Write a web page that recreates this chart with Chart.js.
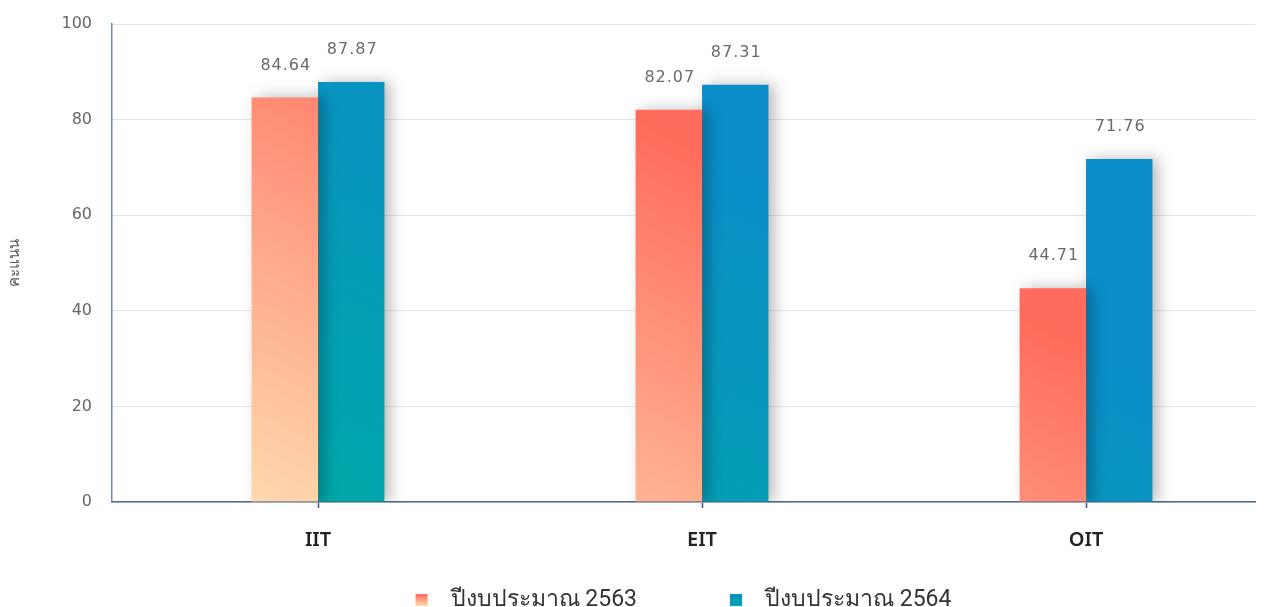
<!DOCTYPE html>
<html>
<head>
<meta charset="utf-8">
<script src="https://cdn.jsdelivr.net/npm/chart.js@4.4.1/dist/chart.umd.min.js"></script>
<style>
  html, body { margin: 0; padding: 0; background: #fff; }
  #wrap { width: 1269px; height: 607px; }
</style>
</head>
<body>
<div id="wrap"><canvas id="grafico"></canvas></div>
<script>
// Dados do gráfico
const categorias = ['IIT', 'EIT', 'OIT'];
const pontos2563 = [84.64, 82.07, 44.71];
const pontos2564 = [87.87, 87.31, 71.76];
const rotulosSeries = ['ปีงบประมาณ 2563', 'ปีงบประมาณ 2564'];
const ticksY = [0, 20, 40, 60, 80, 100];
const tituloY = 'คะแนน';

// Cores (topo/vermelho -> base/claro)
const coresLaranja = ['#FF6B5C', '#FFD9AE'];
const coresAzul = ['#0A8DC8', '#00AAA8'];

// Gradiente diagonal sobre toda a área do gráfico
function gradiente(chart, cores) {
  const a = chart.chartArea;
  if (!a) return cores[0];
  const g = chart.ctx.createLinearGradient(a.left + 556, a.top + 105, a.left + 316, a.top + 569);
  g.addColorStop(0, cores[0]);
  g.addColorStop(1, cores[1]);
  return g;
}

// Sombra das barras
const sombra = {
  id: 'sombra',
  beforeDatasetsDraw(chart) {
    const c = chart.ctx;
    c.save();
    c.shadowColor = 'rgba(0, 0, 0, 0.28)';
    c.shadowBlur = 14;
    c.shadowOffsetX = 6;
    c.shadowOffsetY = 0;
  },
  afterDatasetsDraw(chart) {
    chart.ctx.restore();
  }
};

// Valores acima das barras
const rotulosValores = {
  id: 'rotulosValores',
  afterDatasetsDraw(chart) {
    const c = chart.ctx;
    c.save();
    c.font = '16px "DejaVu Sans"';
    c.fillStyle = '#6b6b6b';
    c.textAlign = 'center';
    c.textBaseline = 'middle';
    c.letterSpacing = '1px';
    chart.data.datasets.forEach((ds, i) => {
      chart.getDatasetMeta(i).data.forEach((bar, j) => {
        c.fillText(ds.data[j].y.toFixed(2), bar.x + 1, bar.y - 32);
      });
    });
    c.restore();
  }
};

// Legenda desenhada à mão (espaçamento igual ao original)
const legenda = {
  id: 'legenda',
  afterDraw(chart) {
    const c = chart.ctx;
    const a = chart.chartArea;
    c.save();
    c.font = '23px Roboto, "Noto Sans"';
    c.textBaseline = 'middle';
    const larguras = chart.data.datasets.map(ds => c.measureText(ds.label).width);
    const caixa = 12, gap = 23, entre = 93;
    const total = larguras.reduce((s, w) => s + caixa + gap + w, 0) + entre * (larguras.length - 1);
    let x = (a.left + a.right) / 2 - total / 2;
    const y = 600;
    const paletas = [coresLaranja, coresAzul];
    chart.data.datasets.forEach((ds, i) => {
      const g = c.createLinearGradient(0, y - 6, 0, y + 6);
      g.addColorStop(0, paletas[i][0]);
      g.addColorStop(1, paletas[i][1]);
      c.fillStyle = g;
      c.fillRect(x, y - 6, caixa, caixa);
      c.fillStyle = '#333';
      c.fillText(ds.label, x + caixa + gap, y);
      x += caixa + gap + larguras[i] + entre;
    });
    c.restore();
  }
};

const ctx = document.getElementById('grafico').getContext('2d');
new Chart(ctx, {
  type: 'bar',
  data: {
    datasets: [
      {
        label: rotulosSeries[0],
        data: categorias.map((cat, i) => ({ x: i, y: pontos2563[i] })),
        backgroundColor: (c) => gradiente(c.chart, coresLaranja),
        borderWidth: 0
      },
      {
        label: rotulosSeries[1],
        data: categorias.map((cat, i) => ({ x: i, y: pontos2564[i] })),
        backgroundColor: (c) => gradiente(c.chart, coresAzul),
        borderWidth: 0
      }
    ]
  },
  options: {
    responsive: true,
    maintainAspectRatio: false,
    animation: false,
    categoryPercentage: 0.346,
    barPercentage: 1,
    layout: { padding: { top: 24, right: 14, left: 0, bottom: 0 } },
    plugins: {
      legend: { display: false },
      tooltip: { enabled: false }
    },
    scales: {
      x: {
        type: 'linear',
        min: -0.5365,
        max: 2.44,
        offset: false,
        afterBuildTicks: (scale) => {
          scale.ticks = categorias.map((cat, i) => ({ value: i }));
        },
        afterFit: (scale) => {
          scale.height = 105;
          scale.paddingLeft = 0;
          scale.paddingRight = 0;
        },
        grid: {
          offset: false,
          drawOnChartArea: false,
          drawTicks: true,
          tickLength: 6,
          tickColor: '#3d5575',
          tickWidth: 1.5
        },
        border: { color: '#50698c', width: 1.5 },
        ticks: {
          padding: 20,
          color: '#222',
          font: { family: '"Noto Sans"', size: 20, weight: '600' },
          callback: (v) => categorias[v]
        }
      },
      y: {
        min: 0,
        max: 100,
        afterBuildTicks: (scale) => {
          scale.ticks = ticksY.map(v => ({ value: v }));
        },
        afterFit: (scale) => {
          scale.width = 112;
          scale.paddingTop = 0;
          scale.paddingBottom = 0;
        },
        grid: {
          color: '#dfe6e6',
          lineWidth: 1,
          drawTicks: false
        },
        border: { color: '#6d87a8', width: 1.5 },
        ticks: {
          padding: 20,
          color: '#666',
          font: { family: '"DejaVu Sans"', size: 16 }
        },
        title: {
          display: true,
          text: tituloY,
          color: '#555',
          font: { size: 15 },
          padding: { top: 6, bottom: 4 }
        }
      }
    }
  },
  plugins: [sombra, rotulosValores, legenda]
});
</script>
</body>
</html>
